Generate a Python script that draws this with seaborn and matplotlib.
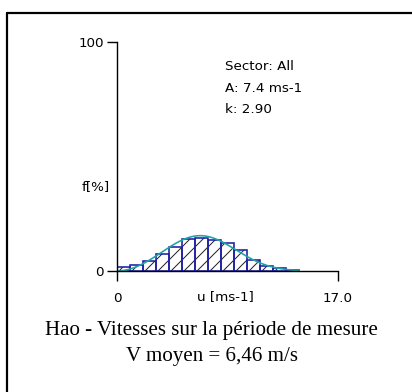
import numpy as np
import pandas as pd
import matplotlib
matplotlib.use("Agg")
import matplotlib.pyplot as plt
from matplotlib.lines import Line2D
import seaborn as sns

# Wind-speed frequency distribution (1 m/s bins, left edges) and Weibull fit parameters
bin_left = list(range(0, 14))
freq_pct = [1.7, 2.5, 4.4, 7.6, 10.5, 13.8, 14.6, 13.4, 12.4, 9.3, 4.8, 2.3, 1.1, 0.6]
weibull_A = 7.4
weibull_k = 2.90
sector = "All"
x_max = 17.0
y_ticks = [0, 100]
caption_lines = ["Hao - Vitesses sur la période de mesure", "V moyen = 6,46 m/s"]

DPI = 78
W, H = 412, 392
PX = 72.0 / DPI  # points per pixel

sns.set_style("white")
plt.rcParams["font.family"] = ["DejaVu Sans"]
plt.rcParams["text.color"] = "black"
plt.rcParams["xtick.color"] = "black"
plt.rcParams["ytick.color"] = "black"
plt.rcParams["hatch.linewidth"] = 1.0 * PX
plt.rcParams["hatch.color"] = "#222222"

fig = plt.figure(figsize=(W / DPI, H / DPI), dpi=DPI)
fig.patch.set_facecolor("white")

# Frame lines (top and left)
fig.add_artist(Line2D([7 / W, 1.0], [1 - 13 / H, 1 - 13 / H], color="black", lw=2.2 * PX))
fig.add_artist(Line2D([7 / W, 7 / W], [1 - 13 / H, 0.0], color="black", lw=2.2 * PX))

ax = fig.add_axes([117 / W, (H - 271) / H, 221 / W, 229 / H])
ax.set_facecolor("white")

df = pd.DataFrame({
    "speed": [e + 0.5 for e in bin_left],
    "freq": freq_pct,
})
edges = bin_left + [bin_left[-1] + 1]

# hatched fill
sns.histplot(data=df, x="speed", weights="freq", bins=edges, ax=ax,
             stat="count", element="bars", fill=True,
             facecolor="white", edgecolor="#222222", linewidth=0, hatch="//",
             alpha=1)
# bar outlines
sns.histplot(data=df, x="speed", weights="freq", bins=edges, ax=ax,
             stat="count", element="bars", fill=False, color="#1f1fa6",
             edgecolor="#1f1fa6", linewidth=1.6 * PX)

# Weibull fit curve
xs = np.linspace(0, 14.0, 300)
pdf = 100 * (weibull_k / weibull_A) * (xs / weibull_A) ** (weibull_k - 1) * np.exp(-(xs / weibull_A) ** weibull_k)
sns.lineplot(x=xs, y=pdf, ax=ax, color="#1fa3a3", lw=1.6 * PX)

ax.set_xlim(0, x_max)
ax.set_ylim(0, 100)
ax.margins(0)
for s in ["top", "right"]:
    ax.spines[s].set_visible(False)
for s in ["left", "bottom"]:
    ax.spines[s].set_color("black")
    ax.spines[s].set_linewidth(1.4 * PX)

fs = 13.5 * PX
ax.set_xticks([0, x_max])
ax.set_xticklabels(["0", f"{x_max:.1f}"], fontsize=fs)
ax.set_yticks(y_ticks)
ax.set_yticklabels([str(t) for t in y_ticks], fontsize=fs)
ax.tick_params(axis="x", bottom=True, direction="out", length=10 * PX, width=1.4 * PX,
               pad=11 * PX, color="black", labelcolor="black")
ax.tick_params(axis="y", left=True, direction="out", length=10 * PX, width=1.4 * PX,
               pad=3 * PX, color="black", labelcolor="black")
ax.set_xlabel("")
ax.set_ylabel("")

ax.text(0.489, -26 / 229, "u [ms-1]", transform=ax.transAxes, ha="center", va="center", fontsize=fs)
ax.text(-7 / 221, 0.371, "f[%]", transform=ax.transAxes, ha="right", va="center", fontsize=fs)

ax.text(0.489, 0.878, f"Sector: {sector}", transform=ax.transAxes, ha="left", va="baseline", fontsize=fs)
ax.text(0.489, 0.783, f"A: {weibull_A:.1f} ms-1", transform=ax.transAxes, ha="left", va="baseline", fontsize=fs)
ax.text(0.489, 0.688, f"k: {weibull_k:.2f}", transform=ax.transAxes, ha="left", va="baseline", fontsize=fs)

cfs = 21 * PX
fig.text(211.5 / W, 1 - 335.5 / H, caption_lines[0], ha="center", va="baseline",
         fontsize=cfs, family=["Liberation Serif"])
fig.text(211.5 / W, 1 - 361 / H, caption_lines[1], ha="center", va="baseline",
         fontsize=cfs, family=["Liberation Serif"])

fig.savefig("out.png", dpi=DPI, facecolor="white")
